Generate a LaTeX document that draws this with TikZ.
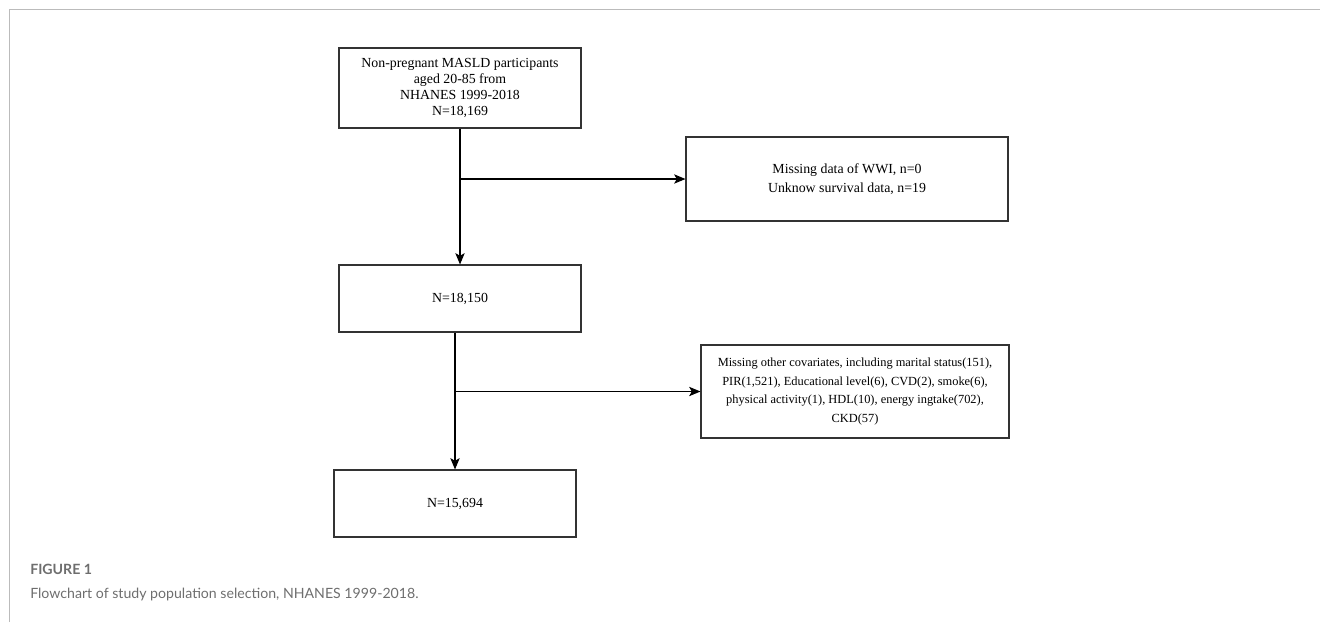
\documentclass[tikz,border=0pt]{standalone}
\usepackage{fontspec}
\setmainfont{Liberation Serif}
\newfontfamily\capfont{Lato}
\usetikzlibrary{positioning,arrows.meta}
\definecolor{capgray}{HTML}{6E6E6E}
\definecolor{framegray}{HTML}{BBBBBB}
\tikzset{
  box/.style={draw=black!80,line width=0.8pt,align=center,inner sep=0pt,
    font=\fontsize{10.4}{14}\selectfont},
  tightbox/.style={box,font=\fontsize{10.4}{12}\selectfont},
  smallbox/.style={box,font=\fontsize{9.3}{14.2}\selectfont},
  flow/.style={line width=0.8pt,-{Stealth[length=8.5pt,width=7pt,inset=2pt]}},
}
\begin{document}
\begin{tikzpicture}[x=0.75pt,y=-0.75pt]
\useasboundingbox (0,0) rectangle (1320,622);
\draw[framegray,line width=0.75pt](9.5,622)--(9.5,9.5)--(1320,9.5);
%
\node[tightbox,minimum width=181.5pt,minimum height=60pt](src) at (460,88)
  {Non-pregnant MASLD participants\\aged 20-85 from\\NHANES 1999-2018\\N=18,169};
\node[box,minimum width=241.5pt,minimum height=63pt](excA) at (847,179)
  {Missing data of WWI, n=0\\Unknow survival data, n=19};
\node[box,minimum width=181.5pt,minimum height=50.25pt](nA) at (460,298.5){N=18,150};
\node[smallbox,minimum width=231pt,minimum height=69.75pt](excB) at (855,391.5)
  {Missing other covariates, including marital status(151),\\PIR(1,521), Educational level(6), CVD(2), smoke(6),\\physical activity(1), HDL(10), energy ingtake(702),\\CKD(57)};
\node[box,minimum width=181.5pt,minimum height=50.25pt](nB) at (455,503.5){N=15,694};
%
\draw[flow](src)--(nA);
\draw[flow](src.south|-excA)--(excA);
\draw[flow](nB.north|-nA.south)--(nB);
\draw[flow](nB.north|-excB)--(excB);
%
\node[anchor=base west,inner sep=0pt,text=capgray,font=\capfont\bfseries\fontsize{10.6}{12}\selectfont](figno) at (30,574){FIGURE 1};
\node[anchor=base west,inner sep=0pt,text=capgray,font=\capfont\fontsize{10.6}{13}\selectfont](figcap) at (30,598){Flowchart of study population selection, NHANES 1999-2018.};
\end{tikzpicture}
\end{document}
